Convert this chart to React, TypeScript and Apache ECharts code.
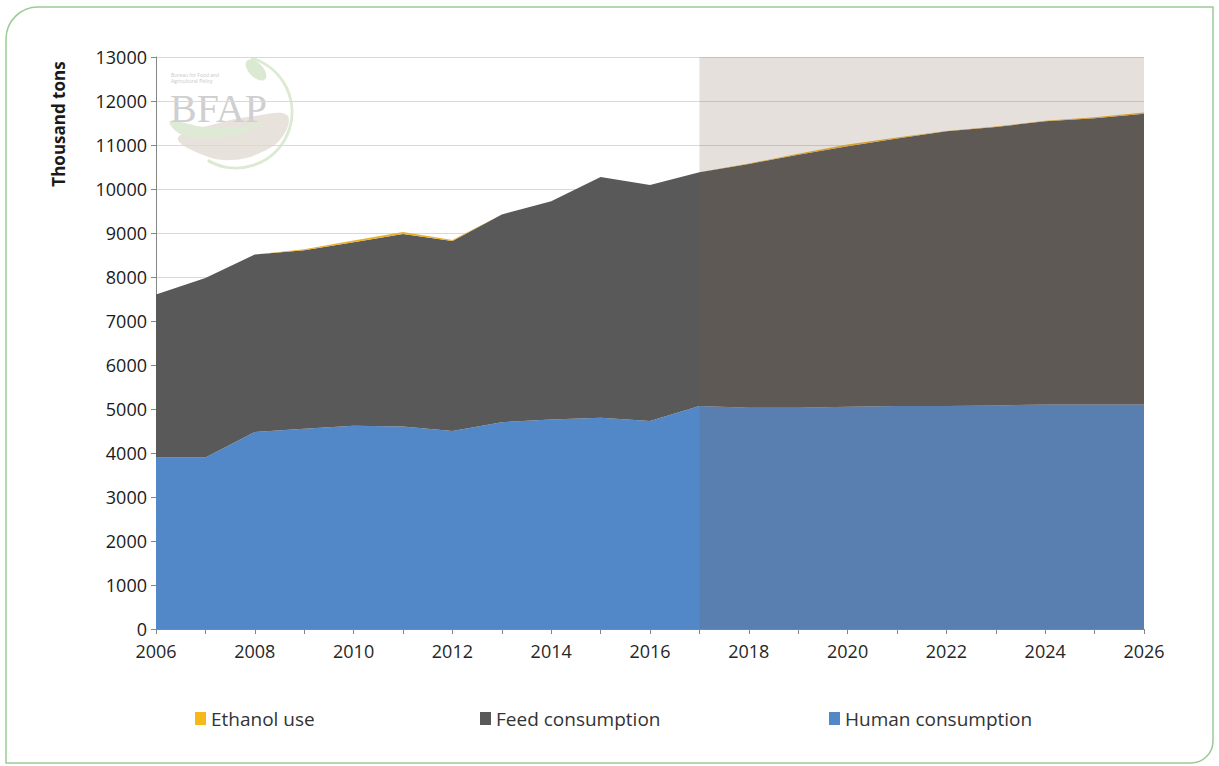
import React, { useEffect, useRef } from "react";
import * as echarts from "echarts";

const years = ["2006","2007","2008","2009","2010","2011","2012","2013","2014","2015","2016","2017","2018","2019","2020","2021","2022","2023","2024","2025","2026"];
const humanConsumption = [3900,3900,4480,4550,4620,4600,4500,4700,4760,4800,4730,5070,5030,5030,5050,5070,5070,5080,5100,5100,5100];
const feedConsumption = [3700,4080,4030,4060,4170,4380,4320,4720,4960,5470,5360,5310,5540,5750,5920,6080,6240,6330,6440,6510,6610];
const ethanolUse = [0,0,0,20,40,40,20,0,0,0,0,0,10,20,40,20,10,10,10,20,30];
const projectionStart = "2017";
const projectionEnd = "2026";

const FONT = '"Open Sans", "Liberation Sans", sans-serif';

export default function App() {
  const ref = useRef<HTMLDivElement>(null);
  useEffect(() => {
    if (!ref.current) return;
    const chart = echarts.init(ref.current, null, { renderer: "svg" });
    const legendText = { fontFamily: FONT, fontSize: 19, color: "#333333" };
    const legendBase = { top: 709, padding: 0, itemWidth: 11, itemHeight: 13, textStyle: legendText, icon: "rect" };
    chart.setOption({
      animation: false,
      backgroundColor: "#ffffff",
      grid: { left: 156, right: 75, top: 57, bottom: 137, containLabel: false },
      legend: [
        { ...legendBase, data: ["Ethanol use"], left: 195 },
        { ...legendBase, data: ["Feed consumption"], left: 480 },
        { ...legendBase, data: ["Human consumption"], left: 829 },
      ],
      xAxis: {
        type: "category",
        data: years,
        boundaryGap: false,
        axisLine: { lineStyle: { color: "#868686", width: 1 } },
        axisTick: { show: true, interval: 0, length: 5, lineStyle: { color: "#868686" } },
        axisLabel: { interval: 1, margin: 13, fontFamily: FONT, fontSize: 18, color: "#262626" },
        splitLine: { show: false },
      },
      yAxis: {
        type: "value",
        min: 0,
        max: 13000,
        interval: 1000,
        axisLine: { show: true, lineStyle: { color: "#868686", width: 1 } },
        axisTick: { show: true, length: 5, lineStyle: { color: "#868686" } },
        axisLabel: { margin: 9, fontFamily: FONT, fontSize: 18, color: "#1a1a1a", formatter: (v: number) => String(v) },
        splitLine: { lineStyle: { color: "#D9D9D9", width: 1 } },
      },
      series: [
        {
          name: "Human consumption",
          type: "line",
          stack: "total",
          data: humanConsumption,
          symbol: "none",
          lineStyle: { width: 0 },
          itemStyle: { color: "#5288C8" },
          areaStyle: { color: "#5288C8", opacity: 1 },
        },
        {
          name: "Feed consumption",
          type: "line",
          stack: "total",
          data: feedConsumption,
          symbol: "none",
          lineStyle: { width: 0 },
          itemStyle: { color: "#595959" },
          areaStyle: { color: "#595959", opacity: 1 },
        },
        {
          name: "Ethanol use",
          type: "line",
          stack: "total",
          data: ethanolUse,
          symbol: "none",
          lineStyle: { width: 0 },
          itemStyle: { color: "#F6B91C" },
          areaStyle: { color: "#E9B02A", opacity: 1 },
          markArea: {
            silent: true,
            z: 10,
            itemStyle: { color: "rgba(121, 89, 73, 0.187)" },
            data: [[{ xAxis: projectionStart }, { xAxis: projectionEnd }]],
          },
        },
      ],
      graphic: [
        {
          type: "rect",
          silent: true,
          shape: { x: 6, y: 7, width: 1207, height: 756, r: [32, 0, 22, 0] },
          style: { fill: "none", stroke: "#9ACB96", lineWidth: 1.5 },
          z: 100,
        },
        {
          type: "text",
          x: 58,
          y: 124,
          rotation: Math.PI / 2,
          style: {
            text: "Thousand tons",
            font: `bold 17px ${FONT}`,
            fill: "#1a1a1a",
            textAlign: "center",
            textVerticalAlign: "middle",
          },
        },
        {
          type: "group",
          silent: true,
          z: 5,
          children: [
            {
              type: "arc",
              shape: { cx: 236, cy: 112, r: 56, startAngle: -1.3, endAngle: 2.1, clockwise: true },
              style: { stroke: "#DCEAD3", lineWidth: 3, fill: "none" },
            },
            {
              type: "polygon",
              shape: {
                smooth: 0.4,
                points: [[178, 138], [215, 124], [255, 116], [287, 115], [283, 136], [262, 152], [232, 160], [203, 155]],
              },
              style: { fill: "#E8E2DC" },
            },
            {
              type: "polygon",
              shape: {
                smooth: 0.4,
                points: [[170, 121], [205, 127], [240, 127], [262, 122], [245, 133], [210, 138], [180, 134]],
              },
              style: { fill: "#DFEAD6" },
            },
            {
              type: "ellipse",
              shape: { cx: 0, cy: 0, rx: 13, ry: 7 },
              x: 256,
              y: 70,
              rotation: -0.8,
              style: { fill: "#DCE9D2" },
            },
            {
              type: "text",
              x: 170,
              y: 88,
              style: { text: "BFAP", font: '40px "Liberation Serif", serif', fill: "#CFCFCF" },
            },
            {
              type: "text",
              x: 171,
              y: 72,
              style: { text: "Bureau for Food and\nAgricultural Policy", font: `5px ${FONT}`, fill: "#C8C8C8", lineHeight: 6 },
            },
          ],
        },
      ],
    });
    return () => chart.dispose();
  }, []);
  return (
    <div
      ref={ref}
      style={{ position: "fixed", left: 0, top: 0, width: 1219, height: 766 }}
    />
  );
}
